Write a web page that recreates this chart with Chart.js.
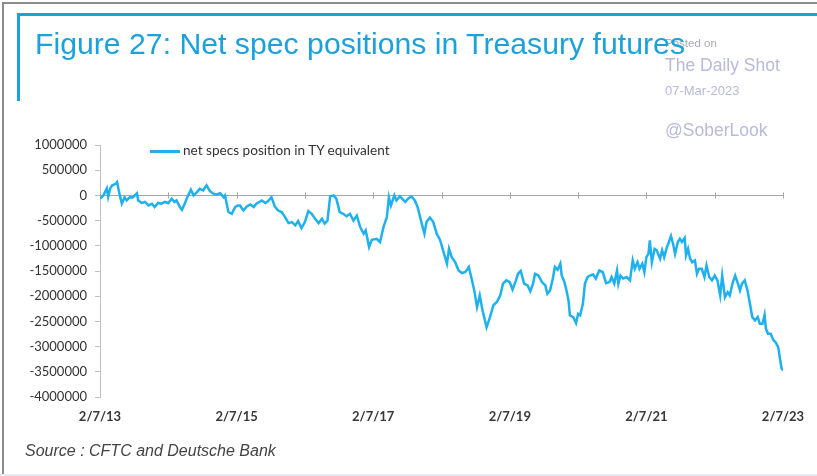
<!DOCTYPE html>
<html>
<head>
<meta charset="utf-8">
<script src="https://cdn.jsdelivr.net/npm/chart.js@4"></script>
<style>
  html, body { margin: 0; padding: 0; background: #fff; }
  #wrap { position: relative; width: 817px; height: 476px; overflow: hidden; }
  #chart { position: absolute; left: 0; top: 0; }
  .frame-gray { position: absolute; left: 2px; top: 2px; width: 830px; height: 472px; border-left: 2px solid #8c8c8c; border-top: 2px solid #8c8c8c; }
  .frame-bottom { position: absolute; left: 0; top: 474px; width: 817px; height: 2px; background: #e4eef0; }
  .frame-blue-v { position: absolute; left: 17px; top: 13px; width: 3px; height: 88px; background: #1ba1dc; }
  .frame-blue-h { position: absolute; left: 17px; top: 13px; width: 805px; height: 3px; background: #1ba1dc; }
  #title { position: absolute; left: 35px; top: 28px; font-family: "Liberation Sans Narrow", "Liberation Sans", Arial, sans-serif; font-size: 29px; color: #1ba1dc; white-space: nowrap; transform-origin: 0 0; }
  .wm { position: absolute; left: 665px; font-family: "Liberation Sans", Arial, sans-serif; color: #b9b9d9; white-space: nowrap; }
  #legend { position: absolute; left: 150px; top: 142px; font-family: Lato, sans-serif; font-size: 13.6px; color: #333; white-space: nowrap; }
  #legend span.swatch { display: inline-block; width: 30px; height: 2.5px; background: #1fb0ee; vertical-align: middle; margin-right: 3px; }
  #source { position: absolute; left: 25px; top: 442px; font-family: "Liberation Sans", Arial, sans-serif; font-style: italic; font-size: 16px; color: #444; white-space: nowrap; }
</style>
</head>
<body>
<div id="wrap">
  <canvas id="chart" width="817" height="476"></canvas>
  <div class="frame-gray"></div>
  <div class="frame-bottom"></div>
  <div class="frame-blue-v"></div>
  <div class="frame-blue-h"></div>
  <div class="wm" style="top:37px;font-size:11.5px;color:#a8a8b8;">Posted on</div>
  <div class="wm" style="top:55px;font-size:17.5px;">The Daily Shot</div>
  <div class="wm" style="top:83px;font-size:13px;">07-Mar-2023</div>
  <div class="wm" style="top:120px;font-size:17.5px;">@SoberLook</div>
  <div id="title">Figure 27: Net spec positions in Treasury futures</div>
  <div id="legend"><span class="swatch"></span>net specs position in TY equivalent</div>
  <div id="source">Source : CFTC and Deutsche Bank</div>
</div>
<script>
// dates as decimal years
const dates = [
  2013.10, 2013.15, 2013.20, 2013.22, 2013.25, 2013.28, 2013.33, 2013.35, 2013.39, 2013.42,
  2013.46, 2013.49, 2013.54, 2013.58, 2013.64, 2013.66, 2013.71, 2013.76, 2013.81, 2013.86,
  2013.90, 2013.95, 2014.00, 2014.05, 2014.10, 2014.15, 2014.19, 2014.22, 2014.27, 2014.30,
  2014.34, 2014.39, 2014.43, 2014.47, 2014.52, 2014.56, 2014.61, 2014.66, 2014.71, 2014.76,
  2014.81, 2014.86, 2014.91, 2014.93, 2014.98, 2015.03, 2015.08, 2015.12, 2015.15, 2015.20,
  2015.25, 2015.30, 2015.35, 2015.39, 2015.47, 2015.52, 2015.56, 2015.61, 2015.66, 2015.71,
  2015.76, 2015.81, 2015.86, 2015.91, 2015.96, 2016.00, 2016.05, 2016.10, 2016.15, 2016.20,
  2016.25, 2016.30, 2016.35, 2016.39, 2016.43, 2016.47, 2016.52, 2016.56, 2016.61, 2016.66,
  2016.71, 2016.76, 2016.81, 2016.86, 2016.91, 2016.96, 2016.99, 2017.04, 2017.08, 2017.15,
  2017.20, 2017.25, 2017.30, 2017.33, 2017.36, 2017.41, 2017.44, 2017.49, 2017.57, 2017.61,
  2017.66, 2017.71, 2017.75, 2017.80, 2017.85, 2017.88, 2017.93, 2017.98, 2018.03, 2018.08,
  2018.13, 2018.18, 2018.21, 2018.25, 2018.30, 2018.35, 2018.40, 2018.45, 2018.50, 2018.53,
  2018.58, 2018.62, 2018.66, 2018.70, 2018.76, 2018.81, 2018.86, 2018.91, 2018.96, 2019.00,
  2019.05, 2019.10, 2019.14, 2019.19, 2019.22, 2019.26, 2019.31, 2019.36, 2019.40, 2019.44,
  2019.47, 2019.52, 2019.57, 2019.62, 2019.65, 2019.69, 2019.73, 2019.76, 2019.80, 2019.84,
  2019.86, 2019.90, 2019.93, 2019.96, 2019.98, 2020.03, 2020.07, 2020.10, 2020.13, 2020.17,
  2020.20, 2020.24, 2020.27, 2020.32, 2020.36, 2020.41, 2020.46, 2020.51, 2020.56, 2020.59,
  2020.63, 2020.67, 2020.69, 2020.72, 2020.76, 2020.81, 2020.86, 2020.90, 2020.93, 2020.97,
  2021.00, 2021.04, 2021.07, 2021.10, 2021.13, 2021.15, 2021.18, 2021.22, 2021.25, 2021.30,
  2021.33, 2021.36, 2021.40, 2021.43, 2021.46, 2021.49, 2021.52, 2021.56, 2021.59, 2021.62,
  2021.66, 2021.68, 2021.71, 2021.74, 2021.77, 2021.81, 2021.84, 2021.87, 2021.91, 2021.95,
  2021.98, 2022.02, 2022.06, 2022.10, 2022.14, 2022.18, 2022.21, 2022.25, 2022.29, 2022.32,
  2022.36, 2022.40, 2022.44, 2022.47, 2022.50, 2022.54, 2022.58, 2022.62, 2022.65, 2022.69,
  2022.73, 2022.76, 2022.80, 2022.83, 2022.85, 2022.88, 2022.92, 2022.96, 2022.99, 2023.03,
  2023.06, 2023.08, 2023.10
];

const netSpecs = [
  -65000, 0, 140000, -30000, 140000, 200000, 230000, 265000, 0, -165000,
  -40000, -100000, -35000, -40000, 40000, -100000, -150000, -130000, -200000, -165000,
  -230000, -150000, -165000, -130000, -150000, -65000, -130000, -100000, -230000, -285000,
  -165000, 0, 115000, 0, 65000, 130000, 100000, 200000, 85000, 35000,
  20000, 45000, -35000, 0, -330000, -365000, -230000, -200000, -200000, -300000,
  -220000, -180000, -230000, -165000, -100000, -150000, -115000, -35000, -220000, -300000,
  -330000, -430000, -550000, -530000, -595000, -510000, -650000, -530000, -310000, -365000,
  -465000, -550000, -465000, -560000, -500000, -20000, 0, -65000, -330000, -365000,
  -415000, -365000, -500000, -400000, -630000, -760000, -695000, -1025000, -880000, -860000,
  -925000, -630000, -430000, -35000, -200000, 0, -100000, -20000, -130000, -65000,
  -20000, -100000, -230000, -500000, -760000, -530000, -440000, -530000, -760000, -890000,
  -1125000, -1355000, -1060000, -1225000, -1325000, -1490000, -1540000, -1520000, -1420000, -1590000,
  -1885000, -2215000, -1985000, -2280000, -2615000, -2415000, -2180000, -2115000, -1985000, -1750000,
  -1685000, -1720000, -1870000, -1685000, -1555000, -1500000, -1750000, -1785000, -1900000, -1750000,
  -1555000, -1590000, -1720000, -1785000, -1950000, -1885000, -1650000, -1420000, -1475000, -1355000,
  -1590000, -1720000, -1885000, -2085000, -2380000, -2415000, -2535000, -2350000, -2380000, -2150000,
  -1750000, -1620000, -1590000, -1570000, -1650000, -1490000, -1520000, -1740000, -1720000, -1620000,
  -1750000, -1490000, -1750000, -1590000, -1650000, -1620000, -1685000, -1290000, -1455000, -1325000,
  -1455000, -1355000, -1520000, -1225000, -1160000, -890000, -1325000, -1060000, -1090000, -1255000,
  -1090000, -1225000, -1025000, -925000, -805000, -960000, -1160000, -925000, -860000, -925000,
  -845000, -1190000, -1060000, -1255000, -1325000, -1290000, -1555000, -1455000, -1455000, -1620000,
  -1390000, -1620000, -1685000, -1590000, -1685000, -1985000, -1590000, -2020000, -1920000, -1985000,
  -1750000, -1590000, -1750000, -1885000, -1750000, -1685000, -1885000, -2180000, -2415000, -2480000,
  -2415000, -2545000, -2545000, -2370000, -2645000, -2745000, -2745000, -2875000, -2910000, -3010000,
  -3275000, -3440000, -3475000
];

const tickDates = [2013.1, 2015.1, 2017.1, 2019.1, 2021.1, 2023.1];
const tickLabels = ['2/7/13', '2/7/15', '2/7/17', '2/7/19', '2/7/21', '2/7/23'];
const yearMarks = [2013.1, 2014.1, 2015.1, 2016.1, 2017.1, 2018.1, 2019.1, 2020.1, 2021.1, 2022.1, 2023.1];

// small tick marks on the zero line, like the excel axis crossing at 0
const zeroTicks = {
  id: 'zeroTicks',
  beforeDatasetsDraw(chart) {
    const {ctx, scales: {x, y}} = chart;
    const y0 = y.getPixelForValue(0);
    ctx.save();
    ctx.strokeStyle = '#a6a6a6';
    ctx.lineWidth = 1;
    yearMarks.forEach(v => {
      const px = Math.round(x.getPixelForValue(v)) + 0.5;
      ctx.beginPath();
      ctx.moveTo(px, y0 - 3);
      ctx.lineTo(px, y0 + 3);
      ctx.stroke();
    });
    ctx.restore();
  }
};

new Chart(document.getElementById('chart'), {
  type: 'line',
  data: {
    datasets: [{
      label: 'net specs position in TY equivalent',
      data: dates.map((d, i) => ({x: d, y: netSpecs[i]})),
      borderColor: '#1fb0ee',
      borderWidth: 2.5,
      pointRadius: 0,
      tension: 0,
      fill: false
    }]
  },
  options: {
    responsive: false,
    animation: false,
    layout: {
      padding: {left: 0, right: 34, top: 145, bottom: 39}
    },
    plugins: {
      legend: {display: false},
      tooltip: {enabled: false}
    },
    scales: {
      x: {
        type: 'linear',
        min: 2013.1,
        max: 2023.1,
        afterBuildTicks: scale => { scale.ticks = tickDates.map(v => ({value: v})); },
        afterFit: scale => { scale.height = 40; },
        grid: {display: false},
        border: {display: false},
        ticks: {
          autoSkip: false,
          maxRotation: 0,
          padding: 4,
          color: '#383838',
          font: {family: 'Lato', size: 13, weight: 'bold'},
          callback: (v, i) => tickLabels[i]
        }
      },
      y: {
        min: -4000000,
        max: 1000000,
        afterFit: scale => { scale.width = 100; },
        border: {display: true, color: '#c0c0c0', width: 1},
        grid: {
          drawOnChartArea: true,
          color: c => c.tick && c.tick.value === 0 ? '#a6a6a6' : 'rgba(0,0,0,0)',
          tickColor: '#c0c0c0',
          tickLength: 5
        },
        ticks: {
          stepSize: 500000,
          padding: 8,
          color: '#333',
          font: {family: 'Lato', size: 13},
          callback: v => String(v)
        }
      }
    }
  },
  plugins: [zeroTicks]
});

// squeeze the title to the narrow width of the original
const title = document.getElementById('title');
const tw = title.getBoundingClientRect().width;
title.style.transform = 'scaleX(' + (650 / tw) + ')';
</script>
</body>
</html>
